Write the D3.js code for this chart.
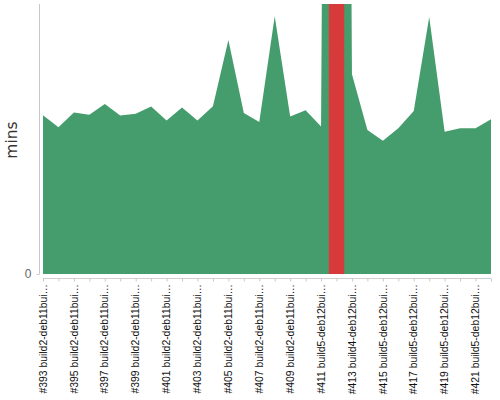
<!DOCTYPE html>
<html>
<head>
<meta charset="utf-8">
<script src="https://cdn.jsdelivr.net/npm/d3@7"></script>
<style>
  body { margin: 0; background: #fff; }
  .my-chart { width: 500px; height: 400px; }
</style>
</head>
<body>
<div class="my-chart"></div>
<script>
// build numbers and the agent each build ran on
const builds = [393, 394, 395, 396, 397, 398, 399, 400, 401, 402, 403, 404, 405, 406, 407,
  408, 409, 410, 411, 412, 413, 414, 415, 416, 417, 418, 419, 420, 421, 422];
const agents = ["build2-deb11bui", "build2-deb11bui", "build2-deb11bui", "build2-deb11bui",
  "build2-deb11bui", "build2-deb11bui", "build2-deb11bui", "build2-deb11bui", "build2-deb11bui",
  "build2-deb11bui", "build2-deb11bui", "build2-deb11bui", "build2-deb11bui", "build2-deb11bui",
  "build2-deb11bui", "build2-deb11bui", "build2-deb11bui", "build2-deb11bui", "build5-deb12bui",
  "build4-deb12bui", "build4-deb12bui", "build5-deb12bui", "build5-deb12bui", "build5-deb12bui",
  "build5-deb12bui", "build5-deb12bui", "build5-deb12bui", "build5-deb12bui", "build5-deb12bui",
  "build5-deb12bui"];
// duration in minutes
const durations = [35.3, 32.6, 35.9, 35.4, 37.8, 35.2, 35.6, 37.2, 34.1, 37.0, 34.1, 37.3, 52.0,
  35.8, 33.8, 57.3, 35.0, 36.4, 32.8, 600, 44.4, 32.0, 29.6, 32.4, 36.2, 57.1, 31.6, 32.4, 32.4, 34.4];
const results = builds.map(b => b === 412 ? "FAILURE" : "SUCCESS");
const yTicks = [0];
const yMax = 60;

const data = builds.map((b, i) => ({
  label: "#" + b + " " + agents[i] + "\u2026",
  build: b,
  value: durations[i],
  result: results[i]
}));

const width = 500, height = 400;
const plot = { left: 43, right: 491, top: 4, bottom: 274 };
const colors = { SUCCESS: "#459d6d", FAILURE: "#d73a3b" };

const svg = d3.select(".my-chart").append("svg")
  .attr("width", width)
  .attr("height", height)
  .style("font-family", "DejaVu Sans, sans-serif");

const x = d3.scalePoint().domain(data.map(d => d.build)).range([plot.left, plot.right]);
const y = d3.scaleLinear().domain([0, yMax]).range([plot.bottom, plot.top]);

svg.append("clipPath").attr("id", "plot-clip")
  .append("rect")
  .attr("x", plot.left).attr("y", plot.top)
  .attr("width", plot.right - plot.left).attr("height", plot.bottom - plot.top);

const area = d3.area()
  .x(d => x(d.build))
  .y0(y(0))
  .y1(d => y(d.value));

const g = svg.append("g").attr("clip-path", "url(#plot-clip)");

// whole series in the success colour
g.append("path")
  .datum(data)
  .attr("fill", colors.SUCCESS)
  .attr("d", area);

// failed builds: repaint the stretch between the neighbouring midpoints
const step = x.step();
data.forEach((d, i) => {
  if (d.result === "SUCCESS") return;
  const x0 = i > 0 ? x(d.build) - step / 2 : plot.left;
  const x1 = i < data.length - 1 ? x(d.build) + step / 2 : plot.right;
  const id = "fail-" + d.build;
  svg.append("clipPath").attr("id", id)
    .append("rect")
    .attr("x", x0).attr("y", plot.top)
    .attr("width", x1 - x0).attr("height", plot.bottom - plot.top);
  g.append("g").attr("clip-path", `url(#${id})`)
    .append("path")
    .datum(data)
    .attr("fill", colors[d.result])
    .attr("d", area);
});

// y axis
const yAxis = svg.append("g")
  .attr("transform", "translate(39.5,0)")
  .call(d3.axisLeft(y).tickValues(yTicks).tickSize(3).tickPadding(5));
yAxis.select(".domain").attr("stroke", "#c8c8c8").attr("d", `M0,${plot.top}V${plot.bottom}`);
yAxis.selectAll(".tick line").attr("stroke", "#c8c8c8");
yAxis.selectAll(".tick text").attr("fill", "#666").style("font-size", "12px");

svg.append("text")
  .attr("transform", `translate(17,140) rotate(-90)`)
  .attr("text-anchor", "middle")
  .attr("fill", "#333")
  .style("font-size", "15.5px")
  .text("mins");

// x axis
const xAxis = svg.append("g")
  .attr("transform", "translate(0,278.5)")
  .call(d3.axisBottom(x).tickSize(3).tickFormat(""));
xAxis.select(".domain").attr("stroke", "#d0d0d0").attr("d", `M${plot.left},0H${plot.right}`);
xAxis.selectAll(".tick line").attr("stroke", "#c8c8c8");

svg.append("g").selectAll("text")
  .data(data.filter((d, i) => i % 2 === 0))
  .join("text")
  .attr("transform", d => `translate(${x(d.build)},284) rotate(-90)`)
  .attr("text-anchor", "end")
  .attr("dy", "0.35em")
  .attr("fill", "#111")
  .style("font-family", "Liberation Sans, Arial, sans-serif")
  .style("font-size", "10.4px")
  .text(d => d.label);
</script>
</body>
</html>
